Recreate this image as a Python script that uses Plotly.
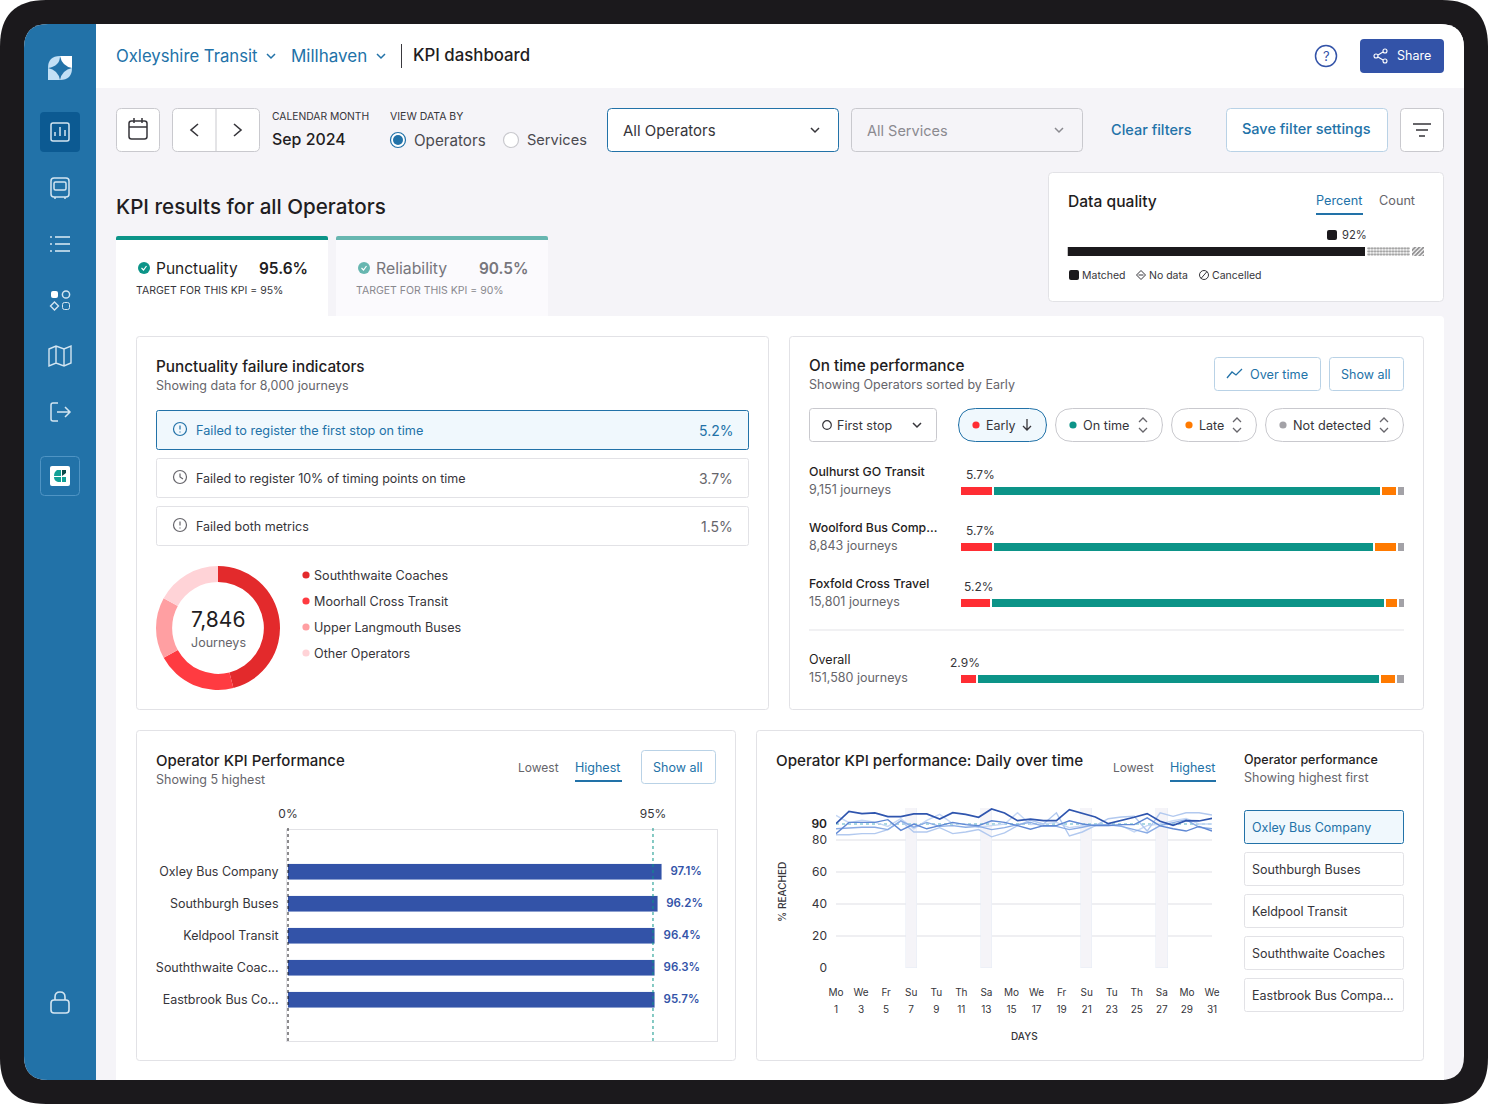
import plotly.graph_objects as go

W, H = 1488, 1104
FONT = "Inter"
INK = "#1f1d22"
GREY = "#66656b"
BLUE = "#2272a8"
INDIGO = "#3353a8"
TEAL = "#0c9488"
RED = "#ff2d33"
ORANGE = "#ff7a00"
NEUTRAL = "#a3a2a7"
BORDER = "#e2e2e6"
BTN = "#b9d2e6"

# donut
donut_labels = ["Souththwaite Coaches", "Moorhall Cross Transit", "Upper Langmouth Buses", "Other Operators"]
donut_values = [46, 21, 16, 17]
donut_colors = ["#e32a2c", "#ff3b41", "#ff9fa2", "#ffd3d7"]

# on time performance
operators = ["Oulhurst GO Transit", "Woolford Bus Comp...", "Foxfold Cross Travel"]
operator_journeys = ["9,151 journeys", "8,843 journeys", "15,801 journeys"]
operator_labels = ["5.7%", "5.7%", "5.2%"]
early = [7.4, 7.4, 7.0]
on_time = [87.3, 85.7, 88.5]
late = [3.6, 5.2, 2.9]
not_detected = [1.7, 1.7, 1.6]
overall = [3.8, 90.5, 3.6, 2.1]
stack_names = ["Early", "On time", "Late", "Not detected"]
stack_colors = [RED, TEAL, ORANGE, NEUTRAL]

# data quality
quality_names = ["Matched", "No data", "Cancelled"]
quality_values = [83.7, 12.6, 3.7]

# operator KPI bars
kpi_operators = ["Oxley Bus Company", "Southburgh Buses", "Keldpool Transit", "Souththwaite Coac...", "Eastbrook Bus Co..."]
kpi_lengths = [97.3, 96.2, 95.5, 95.5, 95.5]
kpi_labels = ["97.1%", "96.2%", "96.4%", "96.3%", "95.7%"]
kpi_target = 95

# daily chart
tick_days = [1, 3, 5, 7, 9, 11, 13, 15, 17, 19, 21, 23, 25, 27, 29, 31]
tick_weekdays = ["Mo", "We", "Fr", "Su", "Tu", "Th", "Sa", "Mo", "We", "Fr", "Su", "Tu", "Th", "Sa", "Mo", "We"]
weekend_days = [7, 13, 21, 27]
weekend_tops = [100, 100, 100, 100]
point_index = list(range(30))
oxley = [90.2, 97.9, 96.5, 96.9, 94.6, 94.6, 96.3, 96.3, 93.1, 97.1, 96.0, 94.2, 99.4, 96.9, 92.1,
         93.1, 92.1, 92.1, 99.0, 96.9, 94.4, 90.2, 92.1, 94.2, 96.5, 91.7, 89.2, 92.1, 91.9, 93.5]
southburgh = [84, 91, 91, 91, 92.7, 86, 90, 87, 89, 91, 89.6, 89, 92, 91, 89,
              86.7, 89, 89, 92, 90, 89, 89, 89.6, 89.6, 93.8, 88.8, 87, 85.6, 88.5, 85.6]
keldpool = [87, 87.5, 88, 88, 86.5, 92, 88, 91, 88.5, 89, 88, 88.5, 86.5, 87.7, 89.6,
            91, 88.5, 88.5, 86.5, 88, 89.6, 89.6, 88.5, 86.5, 84.4, 89, 91, 92.7, 88, 87]
souththwaite = [83.3, 83.3, 84, 84, 86.5, 92, 85, 85, 87.7, 84, 85, 86.5, 82, 84.4, 89,
                92.3, 90, 97, 82.5, 85, 89, 93.3, 94.4, 94.8, 85.6, 97, 94.8, 97, 97, 95.6]
eastbrook = [95.4, 90.8, 92.3, 91.2, 88.5, 93.3, 87, 92.3, 96, 90.2, 90, 88, 89, 90, 97,
             89.6, 90, 91, 87.7, 89, 89, 89, 89, 85, 89, 90, 92, 93.5, 90, 90]
target_days = [1, 31]
target_values = [90, 90]
daily_series = [
    ("Eastbrook Bus Company", eastbrook, "#c6d8f5", 1.4),
    ("Souththwaite Coaches", souththwaite, "#b2c9ef", 1.4),
    ("Keldpool Transit", keldpool, "#8aace5", 1.4),
    ("Southburgh Buses", southburgh, "#5f88d4", 1.4),
    ("Oxley Bus Company", oxley, "#2f55ae", 1.7),
]
side_operators = ["Oxley Bus Company", "Southburgh Buses", "Keldpool Transit", "Souththwaite Coaches", "Eastbrook Bus Compa..."]

shapes = []
notes = []


def dom_x(a, b):
    return [a / W, b / W]


def dom_y(top, bottom):
    return [1 - bottom / H, 1 - top / H]


def path(d, line=None, lw=1.5, fill=None):
    shapes.append(dict(type="path", path=d, xref="x", yref="y", layer="below",
                       fillcolor=fill or "rgba(0,0,0,0)",
                       line=dict(color=line or "rgba(0,0,0,0)", width=lw if line else 0)))


def rrect(x0, y0, x1, y1, r=0, fill=None, line=None, lw=1, tl=True, tr=True, br=True, bl=True):
    if line:
        x0, y0, x1, y1 = x0 + 0.5, y0 + 0.5, x1 - 0.5, y1 - 0.5
    a, b, c, e = (r if tl else 0), (r if tr else 0), (r if br else 0), (r if bl else 0)
    d = (f"M{x0 + a},{y0} L{x1 - b},{y0} Q{x1},{y0} {x1},{y0 + b} L{x1},{y1 - c} Q{x1},{y1} {x1 - c},{y1} "
         f"L{x0 + e},{y1} Q{x0},{y1} {x0},{y1 - e} L{x0},{y0 + a} Q{x0},{y0} {x0 + a},{y0} Z")
    path(d, line, lw, fill)


def circle(cx, cy, r, fill=None, line=None, lw=1.5):
    shapes.append(dict(type="circle", xref="x", yref="y", layer="below", x0=cx - r, x1=cx + r, y0=cy - r, y1=cy + r,
                       fillcolor=fill or "rgba(0,0,0,0)",
                       line=dict(color=line or "rgba(0,0,0,0)", width=lw if line else 0)))


def txt(x, y, text, size=13, color=INK, anchor="left", weight=400, angle=0):
    # annotations sit a pixel off from where the text should start
    nudge = {"left": -1, "center": 0, "right": 1}[anchor]
    notes.append(dict(x=x + nudge, y=y - 0.3, xref="x", yref="y", text=text, showarrow=False, xanchor=anchor,
                      yanchor="middle", align=anchor, textangle=angle, borderpad=0,
                      font=dict(family=FONT, size=size, color=color, weight=weight)))


def chevron_down(cx, cy, color, s=4):
    path(f"M{cx - s},{cy - s / 2} L{cx},{cy + s / 2} L{cx + s},{cy - s / 2}", color, 1.5)


def updown(cx, cy, color=GREY):
    path(f"M{cx - 4},{cy - 3} L{cx},{cy - 7} L{cx + 4},{cy - 3}", color, 1.3)
    path(f"M{cx - 4},{cy + 3} L{cx},{cy + 7} L{cx + 4},{cy + 3}", color, 1.3)


# frame
rrect(0, 0, W, H, 46, fill="#1b191c")
rrect(24, 24, 1464, 1080, 24, fill="#f5f4f8")
rrect(24, 24, 96, 1080, 24, fill="#2272a8", tr=False, br=False)
rrect(96, 24, 1464, 88, 24, fill="#ffffff", tl=False, bl=False, br=False)
rrect(116, 316, 1444, 1080, 4, fill="#ffffff", bl=False, br=False)

# sidebar
ICON = "#d3e5f1"
path("M48,68 Q48,56 60,56 Q60,66 48,68 Z", fill="#c3e0f5")
path("M60,56 L72,56 L72,68 Q62,66 60,56 Z", fill="#ffffff")
path("M48,68 Q58,70 60,80 L48,80 Z", fill="#c3e0f5")
path("M72,68 Q72,80 60,80 Q62,70 72,68 Z", fill="#c3e0f5")
rrect(40, 112, 80, 152, 4, fill="#0c5a92")
rrect(50.5, 122.5, 69.5, 141.5, 2, line=ICON, lw=1.5)
path("M55,136 L55,132 M60,136 L60,127 M65,136 L65,130", ICON, 1.5)
rrect(50.5, 177.5, 69.5, 197.5, 3, line=ICON, lw=1.5)
rrect(53.5, 181.5, 66.5, 190.5, 1.5, line=ICON, lw=1.5)
path("M55,197 L55,199 M65,197 L65,199", ICON, 1.5)
for yy in (237, 244, 251):
    path(f"M55,{yy} L70,{yy}", ICON, 1.6)
    path(f"M50,{yy} L52,{yy}", ICON, 1.6)
rrect(51, 291, 58, 298, 2, fill="#ffffff")
circle(66, 294.5, 3.6, line=ICON)
path("M54.5,302 L58.5,306 L54.5,310 L50.5,306 Z", ICON, 1.4)
rrect(62, 302, 70, 310, 2, line=ICON)
path("M49,349 L56,346 L64,349 L71,346 L71,363 L64,366 L56,363 L49,366 Z M56,346 L56,363 M64,349 L64,366", ICON, 1.4)
path("M58,403 L53,403 Q51,403 51,405 L51,419 Q51,421 53,421 L58,421", ICON, 1.5)
path("M57,412 L69,412 M65,407 L70,412 L65,417", ICON, 1.5)
rrect(40, 456, 80, 496, 4, line="#4f94c4", lw=1)
rrect(50, 466, 70, 486, 2, fill="#ffffff")
path("M61,470 L57,470 Q54,472 54,476 L61,476 Z", fill="#13a096")
path("M61,477 L54,477 Q54,481 58,482 L61,482 Z", fill="#13a096")
path("M62,470 L66,470 L66,473 L62,476 Z", fill="#0c4a4a")
path("M62,477 L66,477 L66,482 L62,482 Z", fill="#13a096")
rrect(50.5, 999.5, 69.5, 1013.5, 3, line=ICON, lw=1.6)
path("M55,1000 L55,997 Q55,992 60,992 Q65,992 65,997 L65,1000", ICON, 1.6)

# header
txt(116, 56, "Oxleyshire Transit", 16.7, BLUE)
chevron_down(271, 56, BLUE)
txt(291, 56, "Millhaven", 17, BLUE)
chevron_down(381, 56, BLUE)
path("M401.5,44 L401.5,68", "#3a393e", 1)
txt(413, 55.5, "KPI dashboard", 16.8, INK, weight=500)
circle(1326, 56, 10.5, line=INDIGO)
txt(1326, 56, "?", 13, INDIGO, "center")
rrect(1360, 39, 1444, 73, 4, fill=INDIGO)
circle(1376, 56, 2, line="#ffffff", lw=1.1)
circle(1385, 51, 2, line="#ffffff", lw=1.1)
circle(1385, 61, 2, line="#ffffff", lw=1.1)
path("M1378,55 L1383,52 M1378,57 L1383,60", "#ffffff", 1.1)
txt(1397, 56, "Share", 12.5, "#ffffff")

# filter row
CTRL = "#c9c9ce"
rrect(116, 108, 160, 152, 5, fill="#ffffff", line=CTRL)
rrect(128.5, 120.5, 147.5, 139.5, 2.5, line="#36353a", lw=1.5)
path("M129,127 L147,127 M134,118 L134,123 M142,118 L142,123", "#36353a", 1.5)
rrect(172, 108, 260, 152, 5, fill="#ffffff", line=CTRL)
path("M216,108 L216,152", CTRL, 1)
path("M198,124 L191,130 L198,136", "#36353a", 1.6)
path("M234,124 L241,130 L234,136", "#36353a", 1.6)
txt(272, 116.5, "CALENDAR MONTH", 10.3, "#36353a")
txt(272, 139.5, "Sep 2024", 15.9, INK, weight=500)
txt(390, 116.5, "VIEW DATA BY", 10.5, "#36353a")
circle(398, 140, 7.5, fill="#ffffff", line=BLUE, lw=1.2)
circle(398, 140, 5, fill=BLUE)
txt(414, 140.5, "Operators", 15.2, "#4b4a50")
circle(511, 140, 7.5, fill="#ffffff", line=CTRL, lw=1.2)
txt(527, 140.5, "Services", 14.6, "#4b4a50")
rrect(607, 108, 839, 152, 4, fill="#ffffff", line=BLUE)
txt(623, 130.5, "All Operators", 15, "#36353a")
chevron_down(815, 130, "#36353a")
rrect(851, 108, 1083, 152, 4, fill="#f5f4f8", line=CTRL)
txt(867, 130.5, "All Services", 14.5, "#8b8a90")
chevron_down(1059, 130, "#8b8a90")
txt(1111, 129.5, "Clear filters", 14.5, BLUE, weight=500)
rrect(1226, 108, 1388, 152, 4, fill="#ffffff", line=BTN)
txt(1242, 129.5, "Save filter settings", 14.5, BLUE, weight=500)
rrect(1400, 108, 1444, 152, 4, fill="#ffffff", line=CTRL)
path("M1413,124 L1431,124 M1416,130 L1428,130 M1419,136 L1425,136", "#36353a", 1.5)

# tabs
txt(116, 206.5, "KPI results for all Operators", 20.6, INK, weight=500)
rrect(116, 236, 328, 320, 3, fill="#ffffff", bl=False, br=False)
rrect(116, 236, 328, 240, 2, fill=TEAL, bl=False, br=False)
rrect(336, 236, 548, 316, 3, fill="#fbfafd", bl=False, br=False)
rrect(336, 236, 548, 240, 2, fill="#67b6b0", bl=False, br=False)
circle(144, 268, 6, fill=TEAL)
path("M141.5,268 L143.5,270 L146.5,266", "#ffffff", 1.2)
txt(156, 268.5, "Punctuality", 15.5, INK)
txt(308, 268.5, "95.6%", 15.4, INK, "right", 600)
txt(136, 291, "TARGET FOR THIS KPI = 95%", 10.5, "#36353a")
circle(364, 268, 6, fill="#67b6b0")
path("M361.5,268 L363.5,270 L366.5,266", "#ffffff", 1.2)
txt(376, 268.5, "Reliability", 15.8, "#77767c")
txt(528, 268.5, "90.5%", 15.4, "#77767c", "right", 600)
txt(356, 291, "TARGET FOR THIS KPI = 90%", 10.5, "#89888e")

# data quality card
rrect(1048, 172, 1444, 302, 4, fill="#ffffff", line=BORDER)
txt(1068, 201.5, "Data quality", 15.6, INK, weight=500)
txt(1316, 200.5, "Percent", 12.7, BLUE)
rrect(1316, 213, 1363, 215, 0, fill=BLUE)
txt(1379, 200.5, "Count", 12.7, GREY)
rrect(1327, 230, 1337, 240, 2, fill="#1b191c")
txt(1342, 235.5, "92%", 11.2, "#36353a")
rrect(1069, 270, 1079, 280, 2, fill="#1b191c")
txt(1082, 275.5, "Matched", 10.5, "#36353a")
path("M1141,270.5 L1145.5,275 L1141,279.5 L1136.5,275 Z M1138.5,275 L1143.5,275", "#36353a", 1)
txt(1149, 275.5, "No data", 10.5, "#36353a")
circle(1204, 275, 4.5, line="#36353a", lw=1)
path("M1201,278.5 L1207,271.5", "#36353a", 1)
txt(1212, 275.5, "Cancelled", 10.5, "#36353a")

# punctuality card
rrect(136, 336, 769, 710, 3, fill="#ffffff", line=BORDER)
txt(156, 366.5, "Punctuality failure indicators", 15.3, INK, weight=500)
txt(156, 385.5, "Showing data for 8,000 journeys", 12.5, GREY)
rrect(156, 410, 749, 450, 2, fill="#f0f8fd", line=BLUE)
rrect(156, 458, 749, 498, 2, line=BORDER)
rrect(156, 506, 749, 546, 2, line=BORDER)
for yy, col in ((429, BLUE), (525, GREY)):
    circle(180, yy, 6.5, line=col, lw=1.2)
    path(f"M180,{yy - 3.5} L180,{yy + 0.5} M180,{yy + 2.5} L180,{yy + 3.5}", col, 1.2)
circle(180, 477, 6.5, line=GREY, lw=1.2)
path("M180,473.5 L180,477 L183,479", GREY, 1.2)
txt(196, 430.5, "Failed to register the first stop on time", 12.7, BLUE)
txt(733, 430.5, "5.2%", 14, BLUE, "right")
txt(196, 478.5, "Failed to register 10% of timing points on time", 12.5, "#36353a")
txt(733, 478.5, "3.7%", 14, GREY, "right")
txt(196, 526.5, "Failed both metrics", 12.5, "#36353a")
txt(733, 526.5, "1.5%", 14, GREY, "right")
txt(218, 619.5, "7,846", 21, INK, "center")
txt(218, 642.5, "Journeys", 12.5, GREY, "center")
for label, color, yy in zip(donut_labels, donut_colors, (575, 601, 627, 653)):
    circle(306, yy, 3.6, fill=color)
    txt(314, yy + 0.5, label, 12.6, "#36353a")

# on time card
rrect(789, 336, 1424, 710, 3, fill="#ffffff", line=BORDER)
txt(809, 365.5, "On time performance", 15.3, INK, weight=500)
txt(809, 384.5, "Showing Operators sorted by Early", 12.5, GREY)
rrect(1214, 357, 1321, 391, 3, line=BTN)
path("M1227,378 L1232,372 L1236,375 L1242,369", BLUE, 1.3)
txt(1250, 374.5, "Over time", 12.7, BLUE)
rrect(1329, 357, 1404, 391, 3, line=BTN)
txt(1366, 374.5, "Show all", 12.5, BLUE, "center")
rrect(809, 408, 937, 442, 3, line=CTRL)
circle(827, 425, 4.3, line="#36353a", lw=1.2)
txt(837, 425.5, "First stop", 12.5, "#36353a")
chevron_down(917, 425, "#36353a")
rrect(958, 408, 1047, 442, 17, fill="#f0f8fd", line=BLUE)
circle(976, 425, 3.6, fill=RED)
txt(986, 425.5, "Early", 12.5, "#36353a")
path("M1027,419 L1027,430 M1023,426 L1027,430 L1031,426", "#36353a", 1.3)
rrect(1055, 408, 1163, 442, 17, line=CTRL)
circle(1073, 425, 3.6, fill=TEAL)
txt(1083, 425.5, "On time", 12.7, "#36353a")
updown(1143, 425)
rrect(1171, 408, 1257, 442, 17, line=CTRL)
circle(1189, 425, 3.6, fill=ORANGE)
txt(1199, 425.5, "Late", 12.5, "#36353a")
updown(1237, 425)
rrect(1265, 408, 1404, 442, 17, line=CTRL)
circle(1283, 425, 3.6, fill=NEUTRAL)
txt(1293, 425.5, "Not detected", 12.7, "#36353a")
updown(1384, 425)
for name, journeys, yy in zip(operators, operator_journeys, (471, 527, 583)):
    txt(809, yy + 0.5, name, 12.3, INK, weight=500)
    txt(809, yy + 18.5, journeys, 12.5, GREY)
txt(966, 474.5, operator_labels[0], 12, "#36353a")
txt(966, 530.5, operator_labels[1], 12, "#36353a")
txt(964, 586.5, operator_labels[2], 12, "#36353a")
path("M809,630 L1404,630", "#ececef", 1.5)
txt(809, 659.5, "Overall", 12.5, INK)
txt(809, 677.5, "151,580 journeys", 12.5, GREY)
txt(950, 662.5, "2.9%", 12, "#36353a")

# KPI card
rrect(136, 730, 736, 1061, 3, fill="#ffffff", line=BORDER)
txt(156, 760.5, "Operator KPI Performance", 15, INK, weight=500)
txt(156, 779.5, "Showing 5 highest", 12.5, GREY)
txt(518, 767.5, "Lowest", 12, GREY)
txt(575, 767.5, "Highest", 12.5, BLUE)
rrect(575, 780, 622, 782, 0, fill=BLUE)
rrect(641, 750, 716, 784, 3, line=BTN)
txt(678, 767.5, "Show all", 12.5, BLUE, "center")

# daily card
rrect(756, 730, 1424, 1061, 3, fill="#ffffff", line=BORDER)
txt(776, 760.5, "Operator KPI performance: Daily over time", 15.2, INK, weight=500)
txt(1113, 767.5, "Lowest", 12, GREY)
txt(1170, 767.5, "Highest", 12.5, BLUE)
rrect(1170, 780, 1216, 782, 0, fill=BLUE)
txt(1244, 759.5, "Operator performance", 12.5, INK, weight=500)
txt(1244, 777.5, "Showing highest first", 12.5, GREY)
for i, name in enumerate(side_operators):
    top = 810 + 42 * i
    if i == 0:
        rrect(1244, top, 1404, top + 34, 2, fill="#f0f8fd", line=BLUE)
    else:
        rrect(1244, top, 1404, top + 34, 2, line=BORDER)
    txt(1252, top + 17.5, name, 12.5, BLUE if i == 0 else "#36353a")
txt(782, 892, "% REACHED", 10, "#36353a", "center", 500, -90)
txt(1024, 1036, "DAYS", 10, "#36353a", "center", 500)

# target lines of the KPI chart, tied to that chart's x axis
for x_val, col in ((0, "#1b191c"), (kpi_target, TEAL)):
    shapes.append(dict(type="line", xref="x5", yref="y5 domain", x0=x_val, x1=x_val, y0=0, y1=1.02, layer="above",
                       line=dict(color=col, width=1, dash="dot")))

fig = go.Figure()

# donut
fig.add_trace(go.Pie(labels=donut_labels, values=donut_values, hole=0.74, sort=False, direction="clockwise",
                     marker=dict(colors=donut_colors), textinfo="none", showlegend=False,
                     domain=dict(x=dom_x(156, 280), y=dom_y(566, 690))))

# stacked on time rows
for name, vals, color in zip(stack_names, [early, on_time, late, not_detected], stack_colors):
    fig.add_trace(go.Bar(y=operators, x=vals, orientation="h", name=name, xaxis="x2", yaxis="y2", width=10 / 56,
                         marker=dict(color=color, line=dict(color="#ffffff", width=2)), showlegend=False))
for name, val, color in zip(stack_names, overall, stack_colors):
    fig.add_trace(go.Bar(y=["Overall"], x=[val], orientation="h", name=name, xaxis="x3", yaxis="y3", width=10 / 56,
                         marker=dict(color=color, line=dict(color="#ffffff", width=2)), showlegend=False))

# data quality
quality_marks = [
    dict(color="#1b191c"),
    dict(color="#ffffff", pattern=dict(shape=".", fgcolor="#1b191c", bgcolor="#ffffff", size=3, solidity=0.45)),
    dict(color="#ffffff", pattern=dict(shape="/", fgcolor="#1b191c", bgcolor="#ffffff", size=3, solidity=0.6)),
]
for name, val, mark in zip(quality_names, quality_values, quality_marks):
    fig.add_trace(go.Bar(y=["Data quality"], x=[val], orientation="h", name=name, xaxis="x4", yaxis="y4", width=1,
                         marker=dict(line=dict(color="#ffffff", width=1.5), **mark), showlegend=False))

# KPI bars
fig.add_trace(go.Bar(y=kpi_operators, x=kpi_lengths, orientation="h", xaxis="x5", yaxis="y5", width=0.5,
                     marker=dict(color="#3353a8"), showlegend=False))
fig.add_trace(go.Scatter(y=kpi_operators, x=kpi_lengths, mode="text", text=["\u2002 " + t for t in kpi_labels],
                         textposition="middle right", xaxis="x5", yaxis="y5", showlegend=False,
                         textfont=dict(family=FONT, size=11.5, color=INDIGO, weight=600)))

# daily chart
fig.add_trace(go.Bar(x=weekend_days, y=weekend_tops, width=0.9, xaxis="x6", yaxis="y6",
                     marker=dict(color="#f5f4f8"), showlegend=False))
fig.add_trace(go.Scatter(x=target_days, y=target_values, mode="lines", xaxis="x7", yaxis="y7", showlegend=False,
                         line=dict(color="#8ecbd8", width=1.5, dash="dot")))
for name, vals, color, width in daily_series:
    fig.add_trace(go.Scatter(x=point_index, y=vals, mode="lines", name=name, xaxis="x8", yaxis="y6",
                             line=dict(color=color, width=width), showlegend=False))

hidden = dict(visible=False, fixedrange=True)
tick_font = dict(family=FONT, size=12, color="#36353a")
fig.update_layout(
    width=W, height=H, margin=dict(l=0, r=0, t=0, b=0, autoexpand=False), autosize=False,
    paper_bgcolor="#ffffff", plot_bgcolor="rgba(0,0,0,0)", barmode="stack",
    font=dict(family=FONT), shapes=shapes, annotations=notes,
    xaxis=dict(range=[0, W], domain=[0, 1], **hidden),
    yaxis=dict(range=[H, 0], domain=[0, 1], **hidden),
    xaxis2=dict(range=[0, 100], domain=dom_x(960, 1405), anchor="y2", **hidden),
    yaxis2=dict(domain=dom_y(463, 631), anchor="x2", autorange="reversed", **hidden),
    xaxis3=dict(range=[0, 100], domain=dom_x(960, 1405), anchor="y3", **hidden),
    yaxis3=dict(domain=dom_y(651, 707), anchor="x3", **hidden),
    xaxis4=dict(range=[0, 100], domain=dom_x(1067.5, 1425), anchor="y4", **hidden),
    yaxis4=dict(domain=dom_y(247, 257), anchor="x4", **hidden),
    xaxis5=dict(range=[-0.26, 111.66], domain=dom_x(287, 717), anchor="y5", side="top", tickvals=[0, kpi_target],
                ticktext=["0%", "95%"], showgrid=False, zeroline=False, ticks="", ticklabelstandoff=6,
                showline=True, mirror=True, linecolor="#e2e2e6", linewidth=1, tickfont=tick_font, fixedrange=True),
    yaxis5=dict(range=[5.28, -1.3125], domain=dom_y(830, 1041), anchor="x5", showgrid=False, zeroline=False, ticks="",
                showline=True, mirror=True, linecolor="#e2e2e6", linewidth=1, ticklabelstandoff=5,
                tickfont=dict(family=FONT, size=12.5, color="#36353a"), fixedrange=True),
    xaxis6=dict(range=[1, 31], domain=dom_x(836, 1212), anchor="y6", tickvals=tick_days, ticktext=tick_weekdays,
                showgrid=False, zeroline=False, ticks="", ticklabelstandoff=17, tickangle=0,
                tickfont=dict(family=FONT, size=10, color="#36353a"), fixedrange=True),
    yaxis6=dict(range=[0, 100], domain=dom_y(808, 968), anchor="x6", tickvals=[0, 20, 40, 60, 80, 100],
                ticktext=["0", "20", "40", "60", "80", ""], gridcolor="#efeff2", gridwidth=1.5, zeroline=False,
                ticks="", ticklabelstandoff=8, tickfont=tick_font, fixedrange=True),
    xaxis7=dict(range=[1, 31], domain=dom_x(836, 1212), anchor="y6", overlaying="x6", tickvals=tick_days,
                ticktext=[str(d) for d in tick_days], showgrid=False, zeroline=False, ticks="",
                ticklabelstandoff=34, tickangle=0, tickfont=dict(family=FONT, size=10, color="#36353a"),
                fixedrange=True),
    yaxis7=dict(range=[0, 100], domain=dom_y(808, 968), anchor="x6", overlaying="y6", tickvals=[90], ticktext=["90"],
                showgrid=False, zeroline=False, ticks="", ticklabelstandoff=8,
                tickfont=dict(family=FONT, size=12, color=INK, weight=600), fixedrange=True),
    xaxis8=dict(range=[0, 29], domain=dom_x(836, 1212), anchor="y6", overlaying="x6", **hidden),
    bargap=0,
)

fig.write_html("out.html", config={"displayModeBar": False},
               post_script="document.body.style.margin='0';document.body.style.overflow='hidden';")
